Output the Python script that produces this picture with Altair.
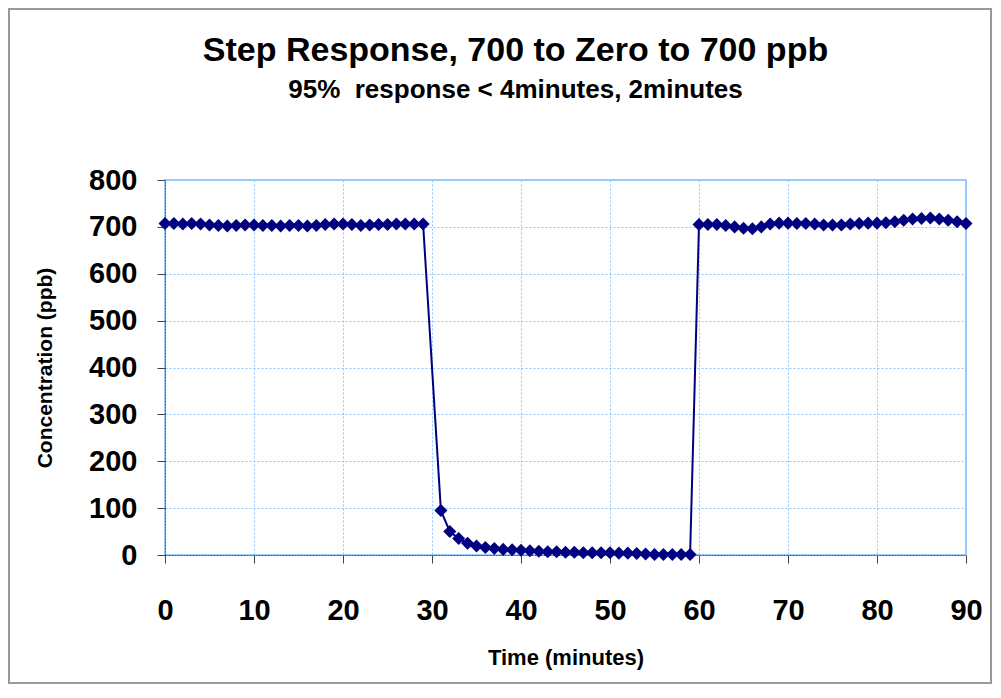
import altair as alt
import pandas as pd

# ---- data ----
time_high1 = list(range(0, 30))
conc_high1 = [707, 707, 706, 707, 706, 704, 703, 702, 703, 704,
              704, 703, 703, 702, 703, 703, 702, 703, 705, 706,
              706, 705, 703, 704, 705, 705, 706, 706, 706, 706]
time_low = list(range(31, 60))
conc_low = [95, 50, 35, 25, 19, 16, 14, 12, 11, 10,
            9, 8, 7, 7, 6, 6, 5, 5, 5, 5,
            4, 4, 3, 2, 1, 1, 1, 1, 1]
time_high2 = list(range(60, 91))
conc_high2 = [705, 705, 705, 703, 700, 697, 696, 700, 706, 708,
              708, 707, 707, 706, 704, 704, 704, 706, 707, 708,
              708, 709, 711, 714, 717, 718, 719, 717, 714, 711, 707]

x_ticks = [0, 10, 20, 30, 40, 50, 60, 70, 80, 90]
y_ticks = [0, 100, 200, 300, 400, 500, 600, 700, 800]

df = pd.DataFrame({
    "t": time_high1 + time_low + time_high2,
    "c": conc_high1 + conc_low + conc_high2,
})

FONT = "Liberation Sans"
NAVY = "#000080"
GRID = "#8cc6ff"

x = alt.X("t:Q", title="Time (minutes)",
          scale=alt.Scale(domain=[0, 90], nice=False, zero=False),
          axis=alt.Axis(values=x_ticks, labelFontSize=29, labelPadding=33,
                        labelFlush=False, labelOverlap=False,
                        titleFontSize=22, titlePadding=22,
                        gridColor=GRID, gridDash=[2, 2], gridWidth=1))
y = alt.Y("c:Q", title="Concentration (ppb)",
          scale=alt.Scale(domain=[0, 800], nice=False),
          axis=alt.Axis(values=y_ticks, labelFontSize=29, labelPadding=20,
                        labelFlush=False, labelOverlap=False,
                        titleFontSize=21, titlePadding=33,
                        gridColor=GRID, gridDash=[2, 2], gridWidth=1))

line = alt.Chart(df).mark_line(color=NAVY, strokeWidth=2).encode(x=x, y=y)
pts = alt.Chart(df).mark_point(shape="diamond", filled=True, color=NAVY,
                               size=170, opacity=1).encode(x=x, y=y)

frame = alt.Chart(df).mark_rect(fill=None, stroke="#9a9a9a", strokeWidth=1.5).encode(
    x=alt.value(-156), x2=alt.value(826), y=alt.value(-171), y2=alt.value(503))

chart = alt.layer(frame, line, pts).properties(
    width=801, height=375,
    title=alt.Title(
        "Step Response, 700 to Zero to 700 ppb",
        subtitle="95%\u00a0 response < 4minutes, 2minutes",
        font=FONT, fontSize=34, fontWeight="bold", color="black",
        subtitleFont=FONT, subtitleFontSize=26, subtitleFontWeight="bold",
        subtitleColor="black", subtitlePadding=9,
        anchor="middle", dx=-50, dy=95, offset=0,
    ),
    autosize=alt.AutoSizeParams(type="none"),
    padding={"left": 157, "top": 172, "right": 26, "bottom": 130},
).configure(background="white").configure_view(
    stroke="#99ccff", strokeWidth=2
).configure_axis(
    labelFont=FONT, labelFontWeight="bold", labelColor="black",
    titleFont=FONT, titleFontWeight="bold", titleColor="black",
    domainColor="#555555", domainDash=[2, 1], domainWidth=1,
    tickColor="#444444", tickSize=8, tickWidth=1,
)

chart.save("out.html", embed_options={"renderer": "svg", "actions": False})
